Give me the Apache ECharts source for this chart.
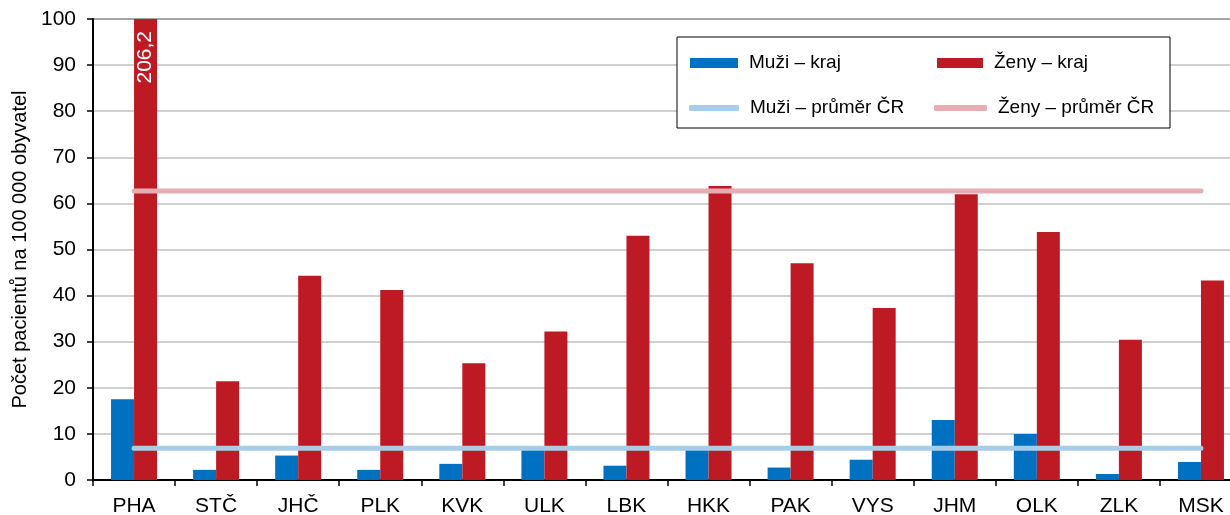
<!DOCTYPE html>
<html>
<head>
<meta charset="utf-8">
<script src="https://cdn.jsdelivr.net/npm/echarts@6/dist/echarts.min.js"></script>
<style>
html,body{margin:0;padding:0;background:#fff;}
#c{width:1230px;height:515px;}
</style>
</head>
<body>
<div id="c"></div>
<script>
const categories = ['PHA','STČ','JHČ','PLK','KVK','ULK','LBK','HKK','PAK','VYS','JHM','OLK','ZLK','MSK'];
const muziKraj = [17.5, 2.2, 5.3, 2.2, 3.5, 6.7, 3.1, 6.7, 2.7, 4.4, 13.0, 10.0, 1.3, 3.9];
const zenyKraj = [206.2, 21.4, 44.3, 41.2, 25.3, 32.2, 53.0, 63.8, 47.0, 37.3, 62.0, 53.8, 30.4, 43.3];
const muziPrumer = 6.9;
const zenyPrumer = 62.7;
const yTicks = [0, 10, 20, 30, 40, 50, 60, 70, 80, 90, 100];
const labelFor = ['206,2'];

const FONT = "'Liberation Sans', Arial, sans-serif";
const chart = echarts.init(document.getElementById('c'), null, {renderer: 'canvas'});

const yMax = yTicks[yTicks.length - 1];
const zenyData = zenyKraj.map((v, i) => v > yMax ? {
  value: v,
  label: {
    show: true, formatter: labelFor[0], position: 'insideTop', rotate: 90,
    align: 'right', verticalAlign: 'middle', distance: 12,
    color: '#fff', fontSize: 21, fontFamily: FONT
  }
} : v);

function legendItem(name, left, top, icon, w, h) {
  return {
    show: true, data: [{name: name, icon: icon}], left: left, top: top,
    orient: 'horizontal', padding: 0, itemWidth: w, itemHeight: h,
    selectedMode: false, z: 5,
    textStyle: {fontSize: 19, fontFamily: FONT, color: '#000', lineHeight: 22, padding: [0, 0, 0, 6]}
  };
}

chart.setOption({
  animation: false,
  textStyle: {fontFamily: FONT},
  grid: {left: 93, width: 1149, top: 19, bottom: 35, containLabel: false, outerBoundsMode: 'none',
    show: true, borderColor: '#222', borderWidth: 1.5, backgroundColor: 'transparent'},
  legend: [
    legendItem('Muži – kraj', 690, 52, 'rect', 48, 10),
    legendItem('Ženy – kraj', 937, 52, 'rect', 46, 10),
    legendItem('Muži – průměr ČR', 689, 97, 'roundRect', 50, 6),
    legendItem('Ženy – průměr ČR', 934, 97, 'roundRect', 53, 6)
  ],
  graphic: [{
    type: 'rect', z: 3, shape: {x: 677, y: 37, width: 493, height: 91},
    style: {fill: '#fff', stroke: '#000', lineWidth: 1}
  }],
  xAxis: {
    type: 'category', data: categories,
    axisLine: {lineStyle: {color: '#000', width: 2}},
    axisTick: {show: true, length: 6, lineStyle: {color: '#000', width: 1.5}},
    axisLabel: {fontSize: 21, color: '#000', fontFamily: FONT, margin: 16, hideOverlap: false},
    splitLine: {show: false}
  },
  yAxis: {
    type: 'value', min: 0, max: yMax, interval: 10,
    name: 'Počet pacientů na 100 000 obyvatel', nameLocation: 'middle', nameRotate: 90, nameGap: 63,
    nameTextStyle: {fontSize: 20, color: '#000', fontFamily: FONT},
    axisLine: {show: true, lineStyle: {color: '#000', width: 2}},
    axisTick: {show: true, length: 6, lineStyle: {color: '#000', width: 1.5}},
    axisLabel: {fontSize: 21, color: '#000', fontFamily: FONT, margin: 17},
    splitLine: {lineStyle: {color: '#c0c0c0', width: 1.5}}
  },
  series: [
    {name: 'Muži – kraj', type: 'bar', data: muziKraj, barWidth: 23, barGap: '0%', itemStyle: {color: '#0070C0'}, z: 2},
    {name: 'Ženy – kraj', type: 'bar', data: zenyData, barWidth: 23, barGap: '0%', clip: true, itemStyle: {color: '#BE1A24'}, z: 2},
    {name: 'Muži – průměr ČR', type: 'line', data: categories.map(() => muziPrumer), symbol: 'none', showSymbol: false,
      lineStyle: {color: '#A7CDEA', width: 5, cap: 'round'}, itemStyle: {color: '#A7CDEA'}, z: 3},
    {name: 'Ženy – průměr ČR', type: 'line', data: categories.map(() => zenyPrumer), symbol: 'none', showSymbol: false,
      lineStyle: {color: '#E8ADB2', width: 5, cap: 'round'}, itemStyle: {color: '#E8ADB2'}, z: 3}
  ]
});
</script>
</body>
</html>
